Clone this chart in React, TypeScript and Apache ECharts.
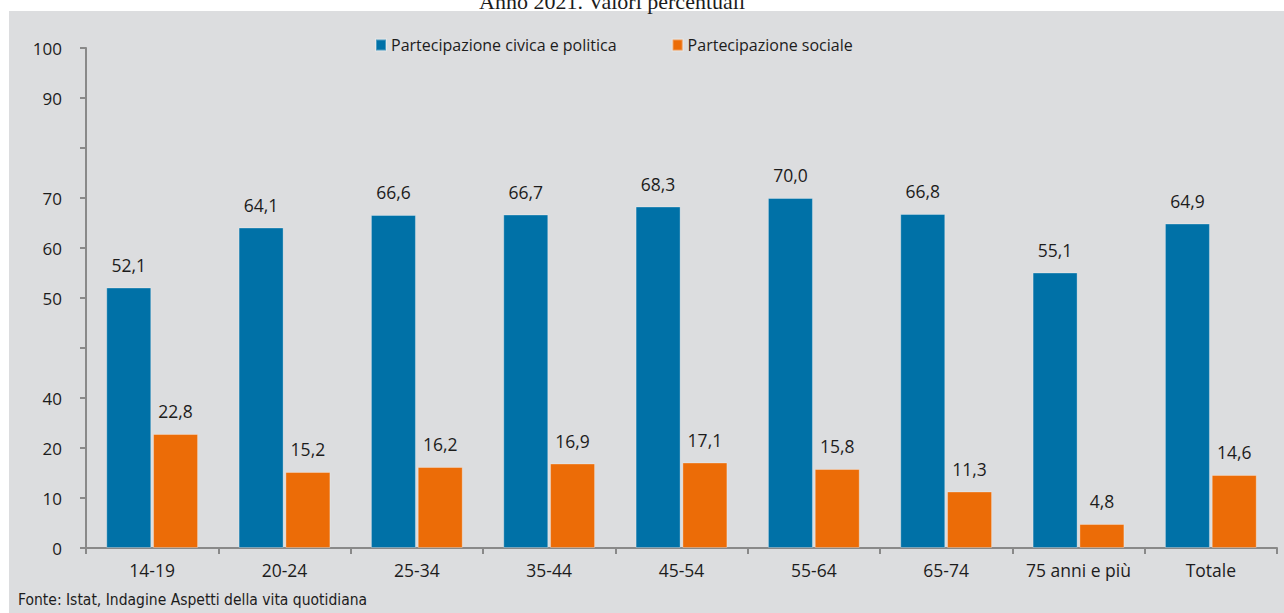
import React, { useEffect, useRef } from "react";
import * as echarts from "echarts";

const categories = ["14-19", "20-24", "25-34", "35-44", "45-54", "55-64", "65-74", "75 anni e più", "Totale"];
const civica = [52.1, 64.1, 66.6, 66.7, 68.3, 70.0, 66.8, 55.1, 64.9];
const sociale = [22.8, 15.2, 16.2, 16.9, 17.1, 15.8, 11.3, 4.8, 14.6];
// labels as printed on the original axis, one per tick (0,10,...,100)
const yTickLabels = ["0", "10", "20", "40", "", "50", "60", "70", "", "90", "100"];
const seriesNames = ["Partecipazione civica e politica", "Partecipazione sociale"];
const titleText = "Anno 2021. Valori percentuali";
const sourceText = "Fonte: Istat, Indagine Aspetti della vita quotidiana";

const FONT = "Open Sans";
const BLUE = "#0071a7";
const ORANGE = "#ec6c07";
const AXIS = "#898989";
const TEXT = "#1c1c1c";

export default function App() {
  const ref = useRef<HTMLDivElement>(null);
  useEffect(() => {
    if (!ref.current) return;
    const chart = echarts.init(ref.current, null, { renderer: "svg" });
    const fmt = (p: any) => Number(p.value).toFixed(1).replace(".", ",");
    chart.setOption({
      animation: false,
      backgroundColor: "#ffffff",
      graphic: [
        { type: "rect", z: -10, shape: { x: 9, y: 11, width: 1275, height: 602 }, style: { fill: "#dcdddf" } },
        {
          type: "text",
          x: 612,
          y: 1,
          style: { text: titleText, font: "22px 'Liberation Serif'", fill: TEXT, align: "center", verticalAlign: "middle" },
        },
        {
          type: "text",
          x: 18,
          y: 600,
          style: { text: sourceText, font: "15.5px 'DejaVu Sans Condensed'", fill: TEXT, align: "left", verticalAlign: "middle" },
        },
      ],
      legend: {
        data: seriesNames,
        top: 32,
        left: 370,
        itemWidth: 10,
        itemHeight: 11,
        itemGap: 55,
        icon: "rect",
        textStyle: { fontFamily: FONT, fontSize: 16, color: TEXT },
      },
      grid: { left: 86, right: 7, top: 48, bottom: 65, containLabel: false },
      xAxis: {
        type: "category",
        data: categories,
        axisLine: { lineStyle: { color: AXIS, width: 2 } },
        axisTick: { show: true, length: 6, lineStyle: { color: AXIS, width: 2 } },
        axisLabel: { fontFamily: FONT, fontSize: 17.5, color: TEXT, margin: 13, interval: 0 },
      },
      yAxis: {
        type: "value",
        min: 0,
        max: 100,
        interval: 10,
        axisLine: { show: true, lineStyle: { color: AXIS, width: 2 } },
        axisTick: { show: true, length: 6, lineStyle: { color: AXIS, width: 2 } },
        splitLine: { show: false },
        axisLabel: {
          fontFamily: FONT,
          fontSize: 17,
          color: TEXT,
          margin: 24,
          formatter: (v: number) => yTickLabels[Math.round(v / 10)] ?? "",
        },
      },
      series: [
        {
          name: seriesNames[0],
          type: "bar",
          data: civica,
          barWidth: 45,
          barGap: "4%",
          itemStyle: { color: BLUE, borderColor: "rgba(255,255,255,0.3)", borderWidth: 1 },
          label: { show: true, position: "top", distance: 14, formatter: fmt, fontFamily: FONT, fontSize: 17.5, color: TEXT },
        },
        {
          name: seriesNames[1],
          type: "bar",
          data: sociale,
          barWidth: 45,
          barGap: "4%",
          itemStyle: { color: ORANGE, borderColor: "rgba(255,255,255,0.3)", borderWidth: 1 },
          label: { show: true, position: "top", distance: 14, formatter: fmt, fontFamily: FONT, fontSize: 17.5, color: TEXT },
        },
      ],
    });
    return () => chart.dispose();
  }, []);
  return <div ref={ref} style={{ position: "fixed", left: 0, top: 0, width: 1284, height: 613 }} />;
}
